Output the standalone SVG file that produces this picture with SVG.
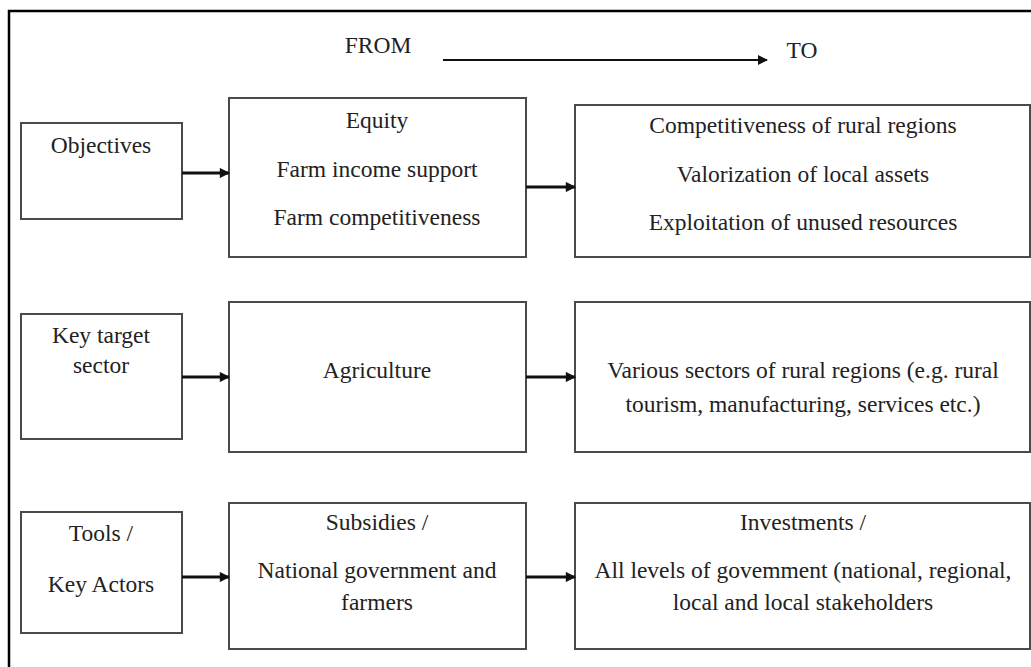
<svg xmlns="http://www.w3.org/2000/svg" width="1031" height="667" viewBox="0 0 1031 667">
<style>
.box{fill:#fff;stroke:#4a4a4a;stroke-width:2}
.t{font-family:"Liberation Serif","Times New Roman",serif;font-size:23.5px;fill:#222;text-anchor:middle}
.c{stroke:#111;stroke-width:3;fill:none}
.top{stroke:#111;stroke-width:2;fill:none}
</style>
<defs>
<marker id="ah" viewBox="0 0 10 10" refX="9" refY="5" markerWidth="4" markerHeight="3.4" orient="auto" markerUnits="strokeWidth">
<path d="M0,0 L10,5 L0,10 z" fill="#111"/>
</marker>
<marker id="ah2" viewBox="0 0 10 10" refX="9" refY="5" markerWidth="6" markerHeight="5" orient="auto" markerUnits="strokeWidth">
<path d="M0,0 L10,5 L0,10 z" fill="#111"/>
</marker>
</defs>
<rect width="1031" height="667" fill="#fff"/>
<path d="M9,668 V11 H1031" stroke="#000" stroke-width="2.5" fill="none"/>

<g id="header">
<text class="t" x="378" y="53">FROM</text>
<text class="t" x="802" y="58">TO</text>
</g>

<g id="n-objectives"><rect class="box" x="21" y="123" width="161" height="96"/><text class="t" x="101" y="153">Objectives</text></g>
<g id="n-from1"><rect class="box" x="229" y="98" width="297" height="159"/>
<text class="t" x="377" y="128">Equity</text>
<text class="t" x="377" y="177">Farm income support</text>
<text class="t" x="377" y="225">Farm competitiveness</text></g>
<g id="n-to1"><rect class="box" x="575" y="105" width="455" height="152"/>
<text class="t" x="803" y="133">Competitiveness of rural regions</text>
<text class="t" x="803" y="182">Valorization of local assets</text>
<text class="t" x="803" y="230">Exploitation of unused resources</text></g>

<g id="n-sector"><rect class="box" x="21" y="314" width="161" height="125"/>
<text class="t" x="101" y="343">Key target</text>
<text class="t" x="101" y="373">sector</text></g>
<g id="n-from2"><rect class="box" x="229" y="302" width="297" height="150"/>
<text class="t" x="377" y="378">Agriculture</text></g>
<g id="n-to2"><rect class="box" x="575" y="302" width="455" height="150"/>
<text class="t" x="803" y="378">Various sectors of rural regions (e.g. rural</text>
<text class="t" x="803" y="412">tourism, manufacturing, services etc.)</text></g>

<g id="n-tools"><rect class="box" x="21" y="512" width="161" height="121"/>
<text class="t" x="101" y="541">Tools /</text>
<text class="t" x="101" y="592">Key Actors</text></g>
<g id="n-from3"><rect class="box" x="229" y="503" width="297" height="146"/>
<text class="t" x="377" y="530">Subsidies /</text>
<text class="t" x="377" y="578">National government and</text>
<text class="t" x="377" y="610">farmers</text></g>
<g id="n-to3"><rect class="box" x="575" y="503" width="455" height="146"/>
<text class="t" x="803" y="530">Investments /</text>
<text class="t" x="803" y="578">All levels of govemment (national, regional,</text>
<text class="t" x="803" y="610">local and local stakeholders</text></g>

<g id="connectors">
<line class="top" x1="443" y1="60" x2="767" y2="60" marker-end="url(#ah2)"/>
<line class="c" x1="182" y1="173" x2="229" y2="173" marker-end="url(#ah)"/>
<line class="c" x1="526" y1="187" x2="575" y2="187" marker-end="url(#ah)"/>
<line class="c" x1="182" y1="377" x2="229" y2="377" marker-end="url(#ah)"/>
<line class="c" x1="526" y1="377" x2="575" y2="377" marker-end="url(#ah)"/>
<line class="c" x1="182" y1="577" x2="229" y2="577" marker-end="url(#ah)"/>
<line class="c" x1="526" y1="577" x2="575" y2="577" marker-end="url(#ah)"/>
</g>
</svg>
